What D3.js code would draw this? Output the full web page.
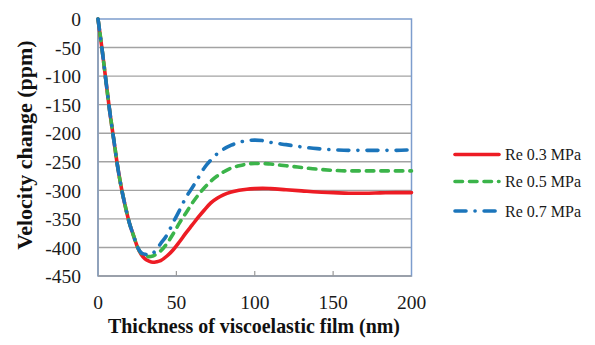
<!DOCTYPE html>
<html><head><meta charset="utf-8">
<script src="https://cdn.jsdelivr.net/npm/d3@7"></script>
<style>body{margin:0;background:#fff}svg{display:block}
svg text{font-family:"Liberation Serif","Times New Roman",Tinos,serif}</style>
</head><body><svg id="c" width="595" height="345"></svg>
<script>
const thickness = [0, 2.5, 5, 7.5, 10, 12.5, 15, 17.5, 20, 22.5, 25, 27.5, 30, 32.5, 35, 37.5, 40, 44, 48, 52, 56, 60, 64, 68, 72, 76, 80, 85, 90, 95, 100, 105, 110, 120, 130, 140, 150, 160, 170, 180, 190, 200];
const re03 = [0, -51, -107, -162, -210, -258, -297, -329, -357, -378, -398, -412, -420, -424, -426, -425, -423, -415, -404, -390, -375, -361, -347, -334, -322, -314, -308, -303, -300, -298, -297, -296.5, -297, -299, -301, -303, -304, -305, -305, -304.5, -304, -304];
const re05 = [0, -51, -107, -162, -210, -258, -297, -329, -357, -378, -398, -410, -414, -416, -415, -411, -406, -393, -376, -357, -340, -323, -308, -295, -284, -275, -268, -261, -257, -254, -253, -253, -254, -257, -260, -263, -265, -266, -266, -266, -266, -266];
const re07 = [0, -51, -107, -162, -210, -258, -297, -329, -357, -378, -398, -409, -412, -413, -410, -403, -393, -378, -356, -335, -313, -296, -278, -260, -247, -236, -228, -221, -216, -213, -212, -213, -216, -220, -224, -227, -229, -230, -230, -230, -230, -229];
const seriesNames = ["Re 0.3 MPa", "Re 0.5 MPa", "Re 0.7 MPa"];
const xTicks = [0, 50, 100, 150, 200];
const yTicks = [0, -50, -100, -150, -200, -250, -300, -350, -400, -450];
const xTitle = "Thickness of viscoelastic film (nm)";
const yTitle = "Velocity change (ppm)";

const colors = ["#ed1c24", "#3bb44a", "#1b75bb"];
const dashes = [null, "7.5,7", "11,9,0.1,9"];

const svg = d3.select("#c");
const L = 98, R = 411.5, T = 19, B = 276;
const x = d3.scaleLinear().domain([0, 200]).range([L, R]);
const y = d3.scaleLinear().domain([-450, 0]).range([B, T]);

// gridlines
svg.append("g").selectAll("line").data(yTicks.filter(v => v !== 0 && v !== -450)).join("line")
  .attr("x1", L).attr("x2", R).attr("y1", d => y(d)).attr("y2", d => y(d))
  .attr("stroke", "#a3a3a3").attr("stroke-width", 1.4);

// frame
svg.append("rect").attr("x", L).attr("y", T).attr("width", R - L).attr("height", B - T)
  .attr("fill", "none").attr("stroke", "#7d9dcd").attr("stroke-width", 1.5);
svg.append("line").attr("x1", L).attr("x2", L).attr("y1", T).attr("y2", B)
  .attr("stroke", "#8d9cb0").attr("stroke-width", 1.5);
svg.append("line").attr("x1", L).attr("x2", R).attr("y1", B).attr("y2", B)
  .attr("stroke", "#9a9a9a").attr("stroke-width", 1.5);
svg.append("g").selectAll("line").data(xTicks.slice(1, -1)).join("line")
  .attr("x1", d => x(d)).attr("x2", d => x(d)).attr("y1", B - 5).attr("y2", B)
  .attr("stroke", "#9a9a9a").attr("stroke-width", 1.2);

// tick labels
svg.append("g").selectAll("text").data(yTicks).join("text")
  .attr("x", 81).attr("y", d => y(d)).attr("dy", "0.37em")
  .attr("text-anchor", "end").style("font-size", "19.5px")
  .attr("fill", "#1a1a1a").text(d => d);
svg.append("g").selectAll("text").data(xTicks).join("text")
  .attr("x", d => x(d)).attr("y", 309)
  .attr("text-anchor", "middle").style("font-size", "19.5px")
  .attr("fill", "#1a1a1a").text(d => d);

// titles
const xt = svg.append("text").attr("x", 254).attr("y", 333).attr("text-anchor", "middle")
  .style("font-weight", "bold").style("font-size", "22px")
  .attr("fill", "#111").text(xTitle);
if (xt.node().getComputedTextLength() > 292) xt.attr("textLength", 292).attr("lengthAdjust", "spacingAndGlyphs");
const yt = svg.append("text").attr("transform", "translate(32,145) rotate(-90)").attr("text-anchor", "middle")
  .style("font-weight", "bold").style("font-size", "22px")
  .attr("fill", "#111").text(yTitle);
if (yt.node().getComputedTextLength() > 234) yt.attr("textLength", 234).attr("lengthAdjust", "spacingAndGlyphs");

// lines
const line = d3.line().x(d => x(d[0])).y(d => y(d[1])).curve(d3.curveMonotoneX);
[re03, re05, re07].forEach((vals, i) => {
  const pts = thickness.map((t, j) => [t, vals[j]]);
  const p = svg.append("path").datum(pts).attr("d", line)
    .attr("fill", "none").attr("stroke", colors[i]).attr("stroke-width", 3.6)
    .attr("stroke-linecap", "round").attr("stroke-linejoin", "round");
  if (dashes[i]) p.attr("stroke-dasharray", dashes[i]);
});

// legend
const legY = [154.5, 181.5, 211];
seriesNames.forEach((name, i) => {
  const l = svg.append("line").attr("x1", 455).attr("x2", 499).attr("y1", legY[i]).attr("y2", legY[i])
    .attr("stroke", colors[i]).attr("stroke-width", 3.6).attr("stroke-linecap", "round");
  if (dashes[i]) l.attr("stroke-dasharray", dashes[i]);
  svg.append("text").attr("x", 505).attr("y", legY[i]).attr("dy", "0.35em")
    .style("font-size", "16px").attr("fill", "#1a1a1a").text(name);
});
</script></body></html>
